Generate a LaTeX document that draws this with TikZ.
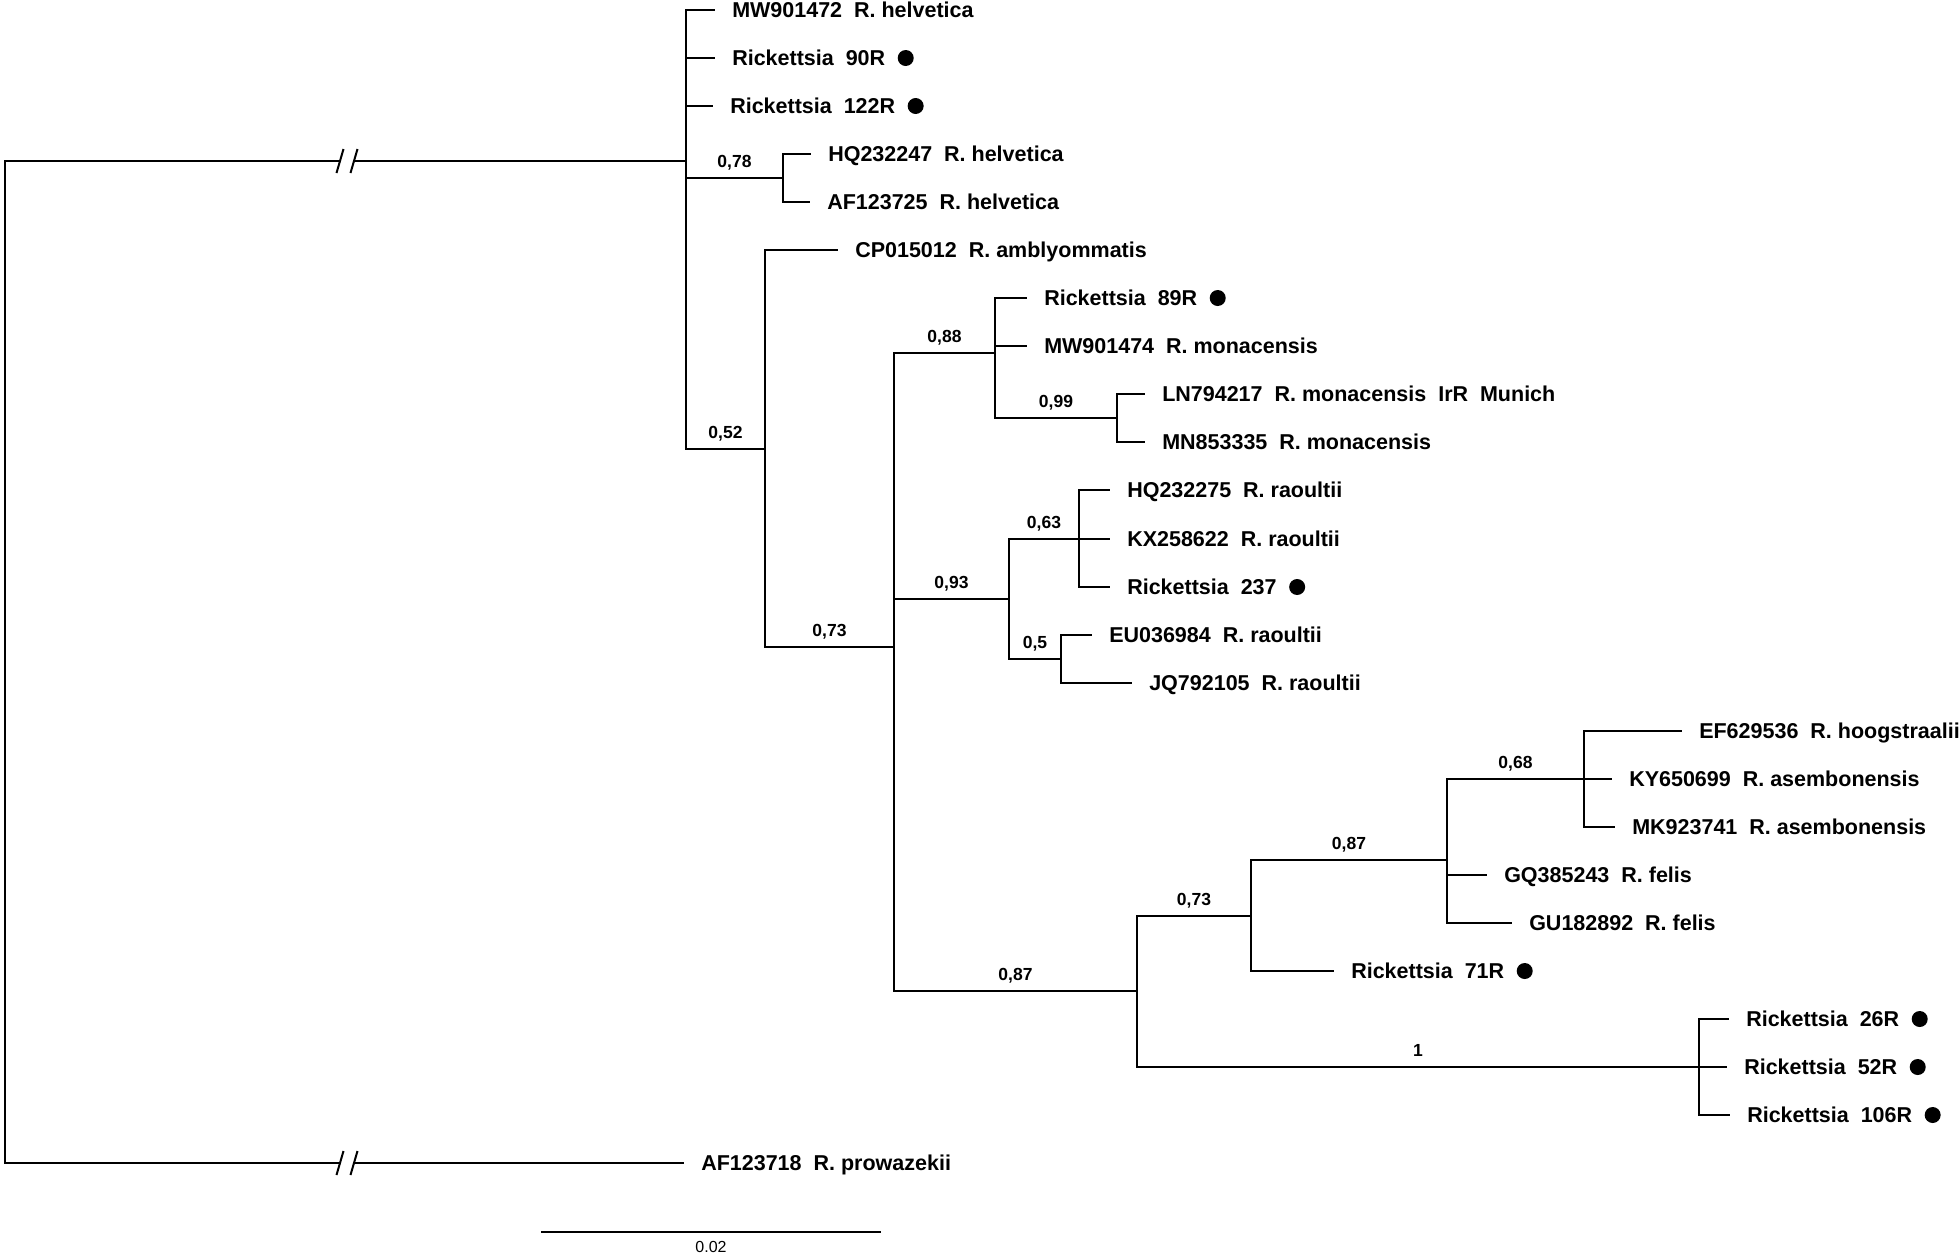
\documentclass[tikz,border=0pt]{standalone}
\usepackage{fontspec}
\setmainfont{Liberation Sans}
\usetikzlibrary{positioning}

\begin{document}
\begin{tikzpicture}[x=1pt,y=-1pt,line width=2.5pt]
  \tikzstyle{leaf}=[anchor=west,inner sep=0pt,text height=15pt,text depth=0pt,font=\bfseries\fontsize{21.5}{24}\selectfont]
  \tikzstyle{spot}=[circle,fill=black,inner sep=0pt,minimum size=16pt]
  \tikzstyle{supp}=[above=9pt,inner sep=0pt,text height=12pt,text depth=0pt,font=\bfseries\fontsize{17.5}{20}\selectfont]
  \tikzstyle{toleaf}=[shorten >=16pt]
  \tikzstyle{slash}=[line width=2pt]

  \useasboundingbox (0,0) rectangle (1960,1256);

  % Inner nodes of the tree
  \coordinate (root)  at (5,662);
  \coordinate (nA)    at (686,161);
  \coordinate (n078)  at (783,178);
  \coordinate (n052)  at (765,449);
  \coordinate (n073a) at (894,647);
  \coordinate (n088)  at (995,353);
  \coordinate (n099)  at (1117,418);
  \coordinate (n093)  at (1009,599);
  \coordinate (n063)  at (1079,539);
  \coordinate (n05)   at (1061,659);
  \coordinate (n087a) at (1137,991);
  \coordinate (n073b) at (1251,916);
  \coordinate (n087b) at (1447,860);
  \coordinate (n068)  at (1584,779);
  \coordinate (n1)    at (1699,1067);

  % Break points of the two long branches
  \coordinate (bkTL) at (340,161);
  \coordinate (bkTR) at (354,161);
  \coordinate (bkBL) at (340,1163);
  \coordinate (bkBR) at (354,1163);

  % Leaves
  \node[leaf] (mw901472) at (731,10)   {MW901472~~R.~helvetica};
  \node[leaf] (r90r)     at (731,58)   {Rickettsia~~90R};
  \node[leaf] (r122r)    at (729,106)  {Rickettsia~~122R};
  \node[leaf] (hq232247) at (827,154)  {HQ232247~~R.~helvetica};
  \node[leaf] (af123725) at (826,202)  {AF123725~~R.~helvetica};
  \node[leaf] (cp015012) at (854,250)  {CP015012~~R.~amblyommatis};
  \node[leaf] (r89r)     at (1043,298) {Rickettsia~~89R};
  \node[leaf] (mw901474) at (1043,346) {MW901474~~R.~monacensis};
  \node[leaf] (ln794217) at (1161,394) {LN794217~~R.~monacensis~~IrR~~Munich};
  \node[leaf] (mn853335) at (1161,442) {MN853335~~R.~monacensis};
  \node[leaf] (hq232275) at (1126,490) {HQ232275~~R.~raoultii};
  \node[leaf] (kx258622) at (1126,539) {KX258622~~R.~raoultii};
  \node[leaf] (r237)     at (1126,587) {Rickettsia~~237};
  \node[leaf] (eu036984) at (1108,635) {EU036984~~R.~raoultii};
  \node[leaf] (jq792105) at (1148,683) {JQ792105~~R.~raoultii};
  \node[leaf] (ef629536) at (1698,731) {EF629536~~R.~hoogstraalii};
  \node[leaf] (ky650699) at (1628,779) {KY650699~~R.~asembonensis};
  \node[leaf] (mk923741) at (1631,827) {MK923741~~R.~asembonensis};
  \node[leaf] (gq385243) at (1503,875) {GQ385243~~R.~felis};
  \node[leaf] (gu182892) at (1528,923) {GU182892~~R.~felis};
  \node[leaf] (r71r)     at (1350,971) {Rickettsia~~71R};
  \node[leaf] (r26r)     at (1745,1019) {Rickettsia~~26R};
  \node[leaf] (r52r)     at (1743,1067) {Rickettsia~~52R};
  \node[leaf] (r106r)    at (1746,1115) {Rickettsia~~106R};
  \node[leaf] (af123718) at (700,1163) {AF123718~~R.~prowazekii};

  % Dots after the own isolates
  \node[spot, right=10pt of r90r]  (r90r-dot)  {};
  \node[spot, right=10pt of r122r] (r122r-dot) {};
  \node[spot, right=10pt of r89r]  (r89r-dot)  {};
  \node[spot, right=10pt of r237]  (r237-dot)  {};
  \node[spot, right=10pt of r71r]  (r71r-dot)  {};
  \node[spot, right=10pt of r26r]  (r26r-dot)  {};
  \node[spot, right=10pt of r52r]  (r52r-dot)  {};
  \node[spot, right=10pt of r106r] (r106r-dot) {};

  % Root and the broken branches
  \draw (root) |- (bkTL);
  \draw (bkTR) -- (nA);
  \draw (root) |- (bkBL);
  \draw[toleaf] (bkBR) -- (af123718);
  \draw[slash] ([shift={(-3.5,12)}]bkTL) -- ([shift={(3.5,-12)}]bkTL);
  \draw[slash] ([shift={(-3.5,12)}]bkTR) -- ([shift={(3.5,-12)}]bkTR);
  \draw[slash] ([shift={(-3.5,12)}]bkBL) -- ([shift={(3.5,-12)}]bkBL);
  \draw[slash] ([shift={(-3.5,12)}]bkBR) -- ([shift={(3.5,-12)}]bkBR);

  % Helvetica group
  \draw[toleaf] (nA) |- (mw901472);
  \draw[toleaf] (nA) |- (r90r);
  \draw[toleaf] (nA) |- (r122r);
  \draw (nA) |- node[supp, pos=0.75] {0,78} (n078);
  \draw[toleaf] (n078) |- (hq232247);
  \draw[toleaf] (n078) |- (af123725);
  \draw (nA) |- node[supp, pos=0.75] {0,52} (n052);
  \draw[toleaf] (n052) |- (cp015012);
  \draw (n052) |- node[supp, pos=0.75] {0,73} (n073a);

  % Monacensis group
  \draw (n073a) |- node[supp, pos=0.75] {0,88} (n088);
  \draw[toleaf] (n088) |- (r89r);
  \draw[toleaf] (n088) |- (mw901474);
  \draw (n088) |- node[supp, pos=0.75] {0,99} (n099);
  \draw[toleaf] (n099) |- (ln794217);
  \draw[toleaf] (n099) |- (mn853335);

  % Raoultii group
  \draw (n073a) |- node[supp, pos=0.75] {0,93} (n093);
  \draw (n093) |- node[supp, pos=0.75] {0,63} (n063);
  \draw[toleaf] (n063) |- (hq232275);
  \draw[toleaf] (n063) |- (kx258622);
  \draw[toleaf] (n063) |- (r237);
  \draw (n093) |- node[supp, pos=0.75] {0,5} (n05);
  \draw[toleaf] (n05) |- (eu036984);
  \draw[toleaf] (n05) |- (jq792105);

  % Felis group
  \draw (n073a) |- node[supp, pos=0.75] {0,87} (n087a);
  \draw (n087a) |- node[supp, pos=0.75] {0,73} (n073b);
  \draw (n073b) |- node[supp, pos=0.75] {0,87} (n087b);
  \draw (n087b) |- node[supp, pos=0.75] {0,68} (n068);
  \draw[toleaf] (n068) |- (ef629536);
  \draw[toleaf] (n068) |- (ky650699);
  \draw[toleaf] (n068) |- (mk923741);
  \draw[toleaf] (n087b) |- (gq385243);
  \draw[toleaf] (n087b) |- (gu182892);
  \draw[toleaf] (n073b) |- (r71r);
  \draw (n087a) |- node[supp, pos=0.75] {1} (n1);
  \draw[toleaf] (n1) |- (r26r);
  \draw[toleaf] (n1) |- (r52r);
  \draw[toleaf] (n1) |- (r106r);

  % Scale bar
  \coordinate (sbL) at (541,1232);
  \coordinate (sbR) at (881,1232);
  \draw (sbL) -- (sbR);
  \node[font=\fontsize{16}{18}\selectfont] (sblab) at (711,1247) {0.02};
\end{tikzpicture}
\end{document}
